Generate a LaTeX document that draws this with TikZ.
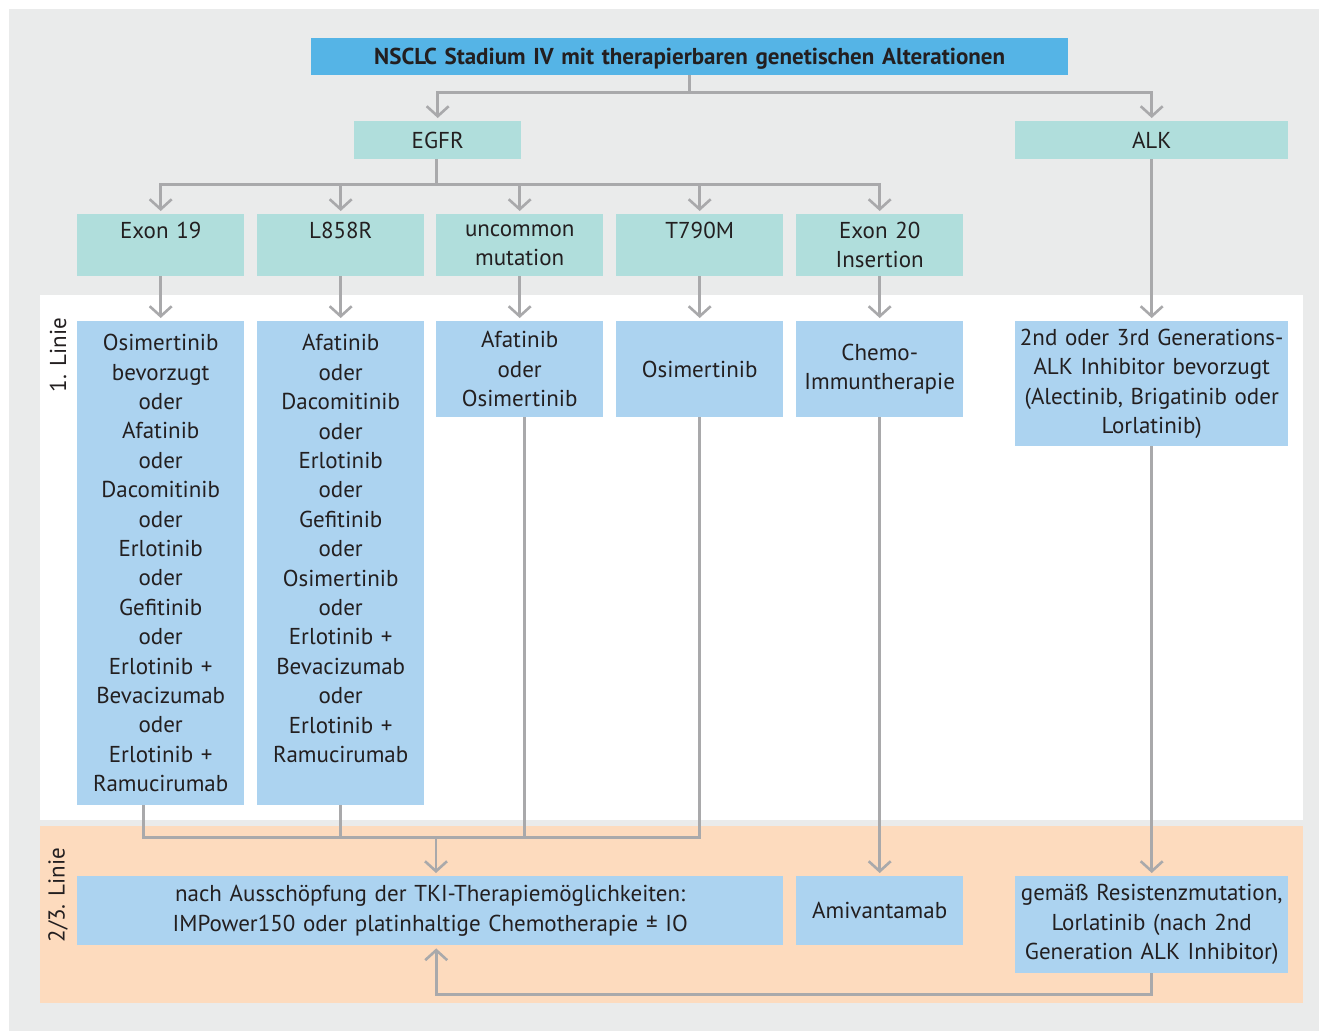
\documentclass[tikz,border=0pt]{standalone}
\usepackage{fontspec}
\setmainfont{PT Sans}
\usetikzlibrary{arrows.meta,calc}
\definecolor{bggray}{HTML}{EAEBEB}
\definecolor{peach}{HTML}{FDDBBE}
\definecolor{teal}{HTML}{B0DEDC}
\definecolor{lblue}{HTML}{ACD3F0}
\definecolor{tblue}{HTML}{55B4E6}
\definecolor{lgray}{HTML}{A9A9AB}
\definecolor{txt}{HTML}{231F20}
\begin{document}
\begin{tikzpicture}[x=1pt,y=-1pt,
  box/.style={inner sep=0pt, anchor=north west, align=center, text=txt,
    font=\fontsize{23}{29.4}\selectfont},
  sz/.style 2 args={text width=#1pt, minimum height=#2pt},
  cat/.style={box, fill=teal},
  therapy/.style={box, fill=lblue},
  head/.style={box, fill=tblue, text depth=0pt, font=\fontsize{23}{26}\selectfont\bfseries},
  side/.style={text=txt, rotate=90, font=\fontsize{23}{26}\selectfont},
  ln/.style={draw=lgray, line width=2.6pt},
  arr/.style={ln, -{Straight Barb[length=10pt,width=22pt]}, shorten >=3pt}]
\useasboundingbox (0,0) rectangle (1319,1031);
% background bands
\fill[bggray] (9,9) rectangle (1319,1031);
\fill[white] (40,295) rectangle (1303,820);
\fill[peach] (40,826) rectangle (1303,1003);

\node[side] (lab1) at (58,355) {1. Linie};
\node[side] (lab2) at (58,895) {2/3. Linie};

% header
\node[head, sz={757}{37}] (title) at (311,38) {NSCLC Stadium IV mit therapierbaren genetischen Alterationen};
\node[cat, sz={167}{38}] (egfr) at (354,121) {EGFR};
\node[cat, sz={273}{38}] (alk) at (1015,121) {ALK};

% EGFR subtypes
\node[cat, sz={167}{62}] (ex19) at (77,214) {Exon 19\\\mbox{}};
\node[cat, sz={167}{62}] (l858) at (257,214) {L858R\\\mbox{}};
\node[cat, sz={167}{62}] (unc) at (436,214) {uncommon\\mutation};
\node[cat, sz={167}{62}] (t790) at (616,214) {T790M\\\mbox{}};
\node[cat, sz={167}{62}] (ex20) at (796,214) {Exon 20\\Insertion};

% first line therapies
\node[therapy, sz={167}{484}] (t1) at (77,321) {Osimertinib\\bevorzugt\\oder\\Afatinib\\oder\\Dacomitinib\\oder\\Erlotinib\\oder\\Gefitinib\\oder\\Erlotinib +\\Bevacizumab\\oder\\Erlotinib +\\Ramucirumab};
\node[therapy, sz={167}{484}] (t2) at (257,321) {Afatinib\\oder\\Dacomitinib\\oder\\Erlotinib\\oder\\Gefitinib\\oder\\Osimertinib\\oder\\Erlotinib +\\Bevacizumab\\oder\\Erlotinib +\\Ramucirumab\\\mbox{}};
\node[therapy, sz={167}{96}] (t3) at (436,321) {Afatinib\\oder\\Osimertinib};
\node[therapy, sz={167}{96}] (t4) at (616,321) {Osimertinib};
\node[therapy, sz={167}{96}] (t5) at (796,321) {Chemo-\\Immuntherapie};
\node[therapy, sz={273}{125}] (alk1) at (1015,321) {2nd oder 3rd Generations-\\ALK Inhibitor bevorzugt\\(Alectinib, Brigatinib oder\\Lorlatinib)};

% second / third line
\node[therapy, sz={706}{69}] (nach) at (77,876) {nach Ausschöpfung der TKI-Therapiemöglichkeiten:\\IMPower150 oder platinhaltige Chemotherapie ± IO};
\node[therapy, sz={167}{69}] (ami) at (796,876) {Amivantamab};
\node[therapy, sz={273}{97}] (gem) at (1015,876) {gemäß Resistenzmutation,\\Lorlatinib (nach 2nd\\Generation ALK Inhibitor)};

% connectors
\draw[arr] (title.south) -- ++(0,17) -| (egfr.north);
\draw[arr] (title.south) -- ++(0,17) -| (alk.north);

\coordinate (eb) at ($(egfr.south)+(-1.5,25)$);
\draw[ln] ([xshift=-1.5pt]egfr.south) -- (eb);
\foreach \n in {ex19,l858,unc,t790,ex20}
  \draw[arr] (eb) -| (\n.north);

\draw[arr] (ex19.south) -- (t1.north);
\draw[arr] (l858.south) -- (t2.north);
\draw[arr] (unc.south) -- (t3.north);
\draw[arr] (t790.south) -- (t4.north);
\draw[arr] (ex20.south) -- (t5.north);
\draw[arr] (alk.south) -- (alk1.north);

\coordinate (j) at (436,837);
\draw[ln] ([xshift=-17.5pt]t1.south) -- ++(0,32) -| (t4.south);
\draw[ln] (t2.south) -- (t2.south |- j);
\draw[ln] ([xshift=4.5pt]t3.south) -- ([xshift=4.5pt]t3.south |- j);
\draw[arr] (j) -- (j |- nach.north);

\draw[arr] (t5.south) -- (ami.north);
\draw[arr] (alk1.south) -- (gem.north);
\draw[arr] (gem.south) -- ++(0,21) -| ([xshift=6pt]nach.south);
\end{tikzpicture}
\end{document}
